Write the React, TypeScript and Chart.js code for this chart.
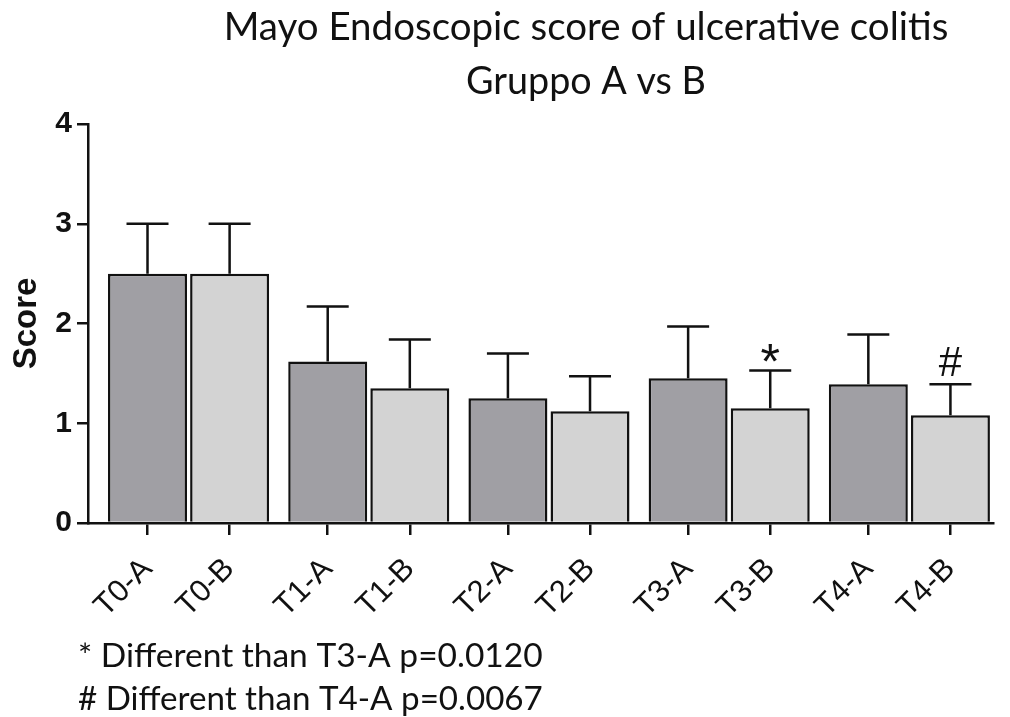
import { useEffect, useRef } from 'react';
import { Chart, registerables } from 'chart.js';

Chart.register(...registerables);

// ---- data ----
const groups = ['T0', 'T1', 'T2', 'T3', 'T4'];
const meanA = [2.5, 1.62, 1.25, 1.45, 1.39];
const meanB = [2.5, 1.35, 1.12, 1.15, 1.08];
const errA = [0.5, 0.55, 0.45, 0.52, 0.5];
const errB = [0.5, 0.49, 0.35, 0.38, 0.31];
const marksA = ['', '', '', '', ''];
const marksB = ['', '', '', '*', '#'];
const yTicks = [0, 1, 2, 3, 4];
const tickLabels = groups.flatMap((g) => [g + '-A', g + '-B']);
const titleLines = ['Mayo Endoscopic score of ulcerative colitis', 'Gruppo A vs B'];
const footnotes = ['* Different than T3-A p=0.0120', '# Different than T4-A p=0.0067'];

// ---- layout constants ----
const PAIR_HALF = 0.2278; // half distance between A and B bar in group units
const X_MIN = -0.558;
const X_MAX = 4.464;
const COLOR_A = '#a09fa4';
const COLOR_B = '#d3d3d3';
const INK = '#111111';

const posA = groups.map((_, i) => i - PAIR_HALF);
const posB = groups.map((_, i) => i + PAIR_HALF);
const tickPos = groups.flatMap((_, i) => [i - PAIR_HALF, i + PAIR_HALF]);

const TITLE_CX = 586;
const TITLE_BASE = [40, 94];
const TITLE_W = [725, 240];
const FOOT_X = 78;
const FOOT_BASE = [667, 710];
const FOOT_W = 465;

function fitFont(ctx: CanvasRenderingContext2D, text: string, width: number, family: string) {
  ctx.font = `100px ${family}`;
  const w = ctx.measureText(text).width;
  return (100 * width) / w;
}

const overlayPlugin = {
  id: 'overlay',
  afterDatasetsDraw(chart: any) {
    const ctx: CanvasRenderingContext2D = chart.ctx;
    const yScale = chart.scales.y;
    const sets = [
      { mean: meanA, err: errA, marks: marksA },
      { mean: meanB, err: errB, marks: marksB },
    ];
    ctx.save();
    ctx.strokeStyle = INK;
    ctx.lineWidth = 2.5;
    ctx.lineCap = 'butt';
    sets.forEach((s, di) => {
      const meta = chart.getDatasetMeta(di);
      meta.data.forEach((bar: any, i: number) => {
        const x = bar.x;
        const yTop = yScale.getPixelForValue(s.mean[i] + s.err[i]);
        ctx.beginPath();
        ctx.moveTo(x, bar.y);
        ctx.lineTo(x, yTop);
        ctx.moveTo(x - 21, yTop);
        ctx.lineTo(x + 21, yTop);
        ctx.stroke();
        const m = s.marks[i];
        if (m) {
          ctx.font = m === '*' ? '50px "Liberation Sans"' : '42px "Liberation Sans"';
          ctx.fillStyle = INK;
          ctx.textAlign = 'center';
          ctx.textBaseline = 'alphabetic';
          const tm = ctx.measureText(m);
          ctx.fillText(m, x, yTop - 8 - tm.actualBoundingBoxDescent);
        }
      });
    });
    ctx.restore();
  },
  afterDraw(chart: any) {
    const ctx: CanvasRenderingContext2D = chart.ctx;
    ctx.save();
    ctx.fillStyle = INK;
    ctx.textBaseline = 'alphabetic';
    const fam = 'Lato';
    titleLines.forEach((t, i) => {
      const size = fitFont(ctx, t, TITLE_W[i], fam);
      ctx.font = `${size}px ${fam}`;
      ctx.textAlign = 'center';
      ctx.fillText(t, TITLE_CX, TITLE_BASE[i]);
    });
    footnotes.forEach((t, i) => {
      const size = fitFont(ctx, t, FOOT_W, fam);
      ctx.font = `${size}px ${fam}`;
      ctx.textAlign = 'left';
      ctx.fillText(t, FOOT_X, FOOT_BASE[i]);
    });
    ctx.restore();
  },
};

export default function App() {
  const ref = useRef<HTMLCanvasElement | null>(null);
  useEffect(() => {
    if (!ref.current) return;
    const chart = new Chart(ref.current, {
      type: 'bar',
      data: {
        datasets: [
          {
            label: 'Gruppo A',
            data: posA.map((x, i) => ({ x, y: meanA[i] })),
            backgroundColor: COLOR_A,
            borderColor: INK,
            borderWidth: 2.5,
            grouped: false,
            categoryPercentage: 1,
            barPercentage: 0.962,
          },
          {
            label: 'Gruppo B',
            data: posB.map((x, i) => ({ x, y: meanB[i] })),
            backgroundColor: COLOR_B,
            borderColor: INK,
            borderWidth: 2.5,
            grouped: false,
            categoryPercentage: 1,
            barPercentage: 0.962,
          },
        ] as any,
      },
      options: {
        responsive: false,
        animation: false,
        devicePixelRatio: 1,
        layout: { padding: { top: 124, right: 17, left: 0, bottom: 0 } },
        plugins: {
          legend: { display: false },
          title: { display: false },
          tooltip: { enabled: false },
        },
        scales: {
          x: {
            type: 'linear',
            min: X_MIN,
            max: X_MAX,
            offset: false,
            afterBuildTicks: (scale: any) => {
              scale.ticks = tickPos.map((v) => ({ value: v }));
            },
            afterFit: (scale: any) => {
              scale.height = 194;
            },
            ticks: {
              autoSkip: false,
              minRotation: 45,
              maxRotation: 45,
              padding: 16,
              color: INK,
              font: { family: '"Liberation Sans"', size: 31 },
              callback: (_v: any, i: number) => tickLabels[i],
            },
            grid: {
              offset: false,
              drawOnChartArea: false,
              drawTicks: true,
              tickLength: 12,
              color: INK,
              lineWidth: 2.5,
            },
            border: { display: true, color: INK, width: 2.5 },
          },
          y: {
            type: 'linear',
            min: 0,
            max: 4,
            afterBuildTicks: (scale: any) => {
              scale.ticks = yTicks.map((v) => ({ value: v }));
            },
            afterFit: (scale: any) => {
              scale.width = 88;
            },
            ticks: {
              padding: 5,
              color: INK,
              font: { family: '"Liberation Sans"', size: 30, weight: 'bold' },
            },
            grid: {
              drawOnChartArea: false,
              drawTicks: true,
              tickLength: 11,
              color: INK,
              lineWidth: 2.5,
            },
            border: { display: true, color: INK, width: 2.5 },
            title: {
              display: true,
              text: 'Score',
              color: INK,
              font: { family: '"Liberation Sans"', size: 33, weight: 'bold' },
              padding: { top: 7, bottom: 0 },
            },
          },
        },
      } as any,
      plugins: [overlayPlugin],
    });
    return () => chart.destroy();
  }, []);
  return (
    <div style={{ position: 'fixed', left: 0, top: 0, width: 1010, height: 717, background: '#fff' }}>
      <canvas ref={ref} width={1010} height={717} />
    </div>
  );
}
